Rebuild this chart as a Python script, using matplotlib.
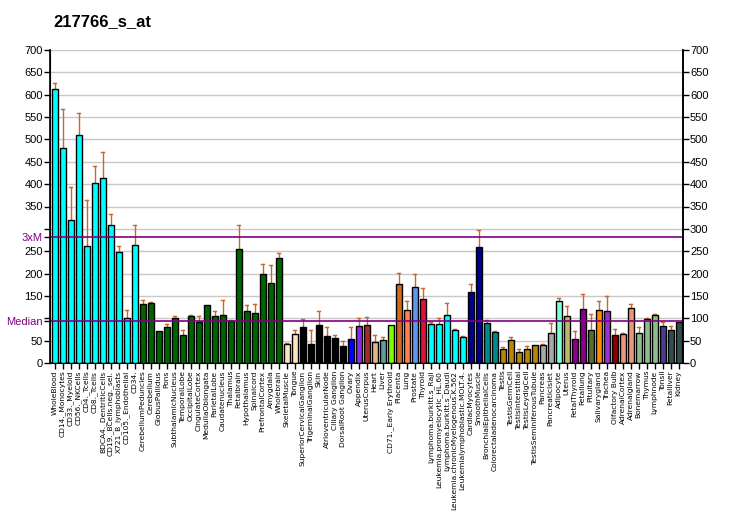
import matplotlib
matplotlib.use("Agg")
import matplotlib.pyplot as plt
import numpy as np

plt.rcParams['font.family'] = ['Liberation Sans', 'DejaVu Sans']

title = "217766_s_at"

categories = [
    "WholeBlood", "CD14._Monocytes", "CD33._Myeloid", "CD56._NKCells", "CD4._Tcells",
    "CD8._Tcells", "BDCA4._DentriticCells", "CD19._BCells.neg._sel.", "X721_B_lymphoblasts",
    "CD105._Endothelial", "CD34.", "CerebellumPeduncles", "Cerebellum", "GlobusPallidus",
    "Pons", "SubthalamicNucleus", "TemporalLobe", "OccipitalLobe", "CingulateCortex",
    "MedullaOblongata", "ParietalLobe", "Caudatenucleus", "Thalamus", "Fetalbrain",
    "Hypothalamus", "Spinalcord", "PrefrontalCortex", "Amygdala", "Wholebrain",
    "SkeletalMuscle", "Tongue", "SuperiorCervicalGanglion", "TrigeminalGanglion", "Skin",
    "AtrioventricularNode", "Ciliary Ganglion", "DorsalRoot Ganglion", "Ovary", "Appendix",
    "UterusCorpus", "Heart", "Liver", "CD71._Early Erythroid", "Placenta", "Lung",
    "Prostate", "Thyroid", "Lymphoma.burkitt.s_Raji", "Leukemia.promyelocytic_HL.60",
    "Lymphoma.burkitt.s_Daudi", "Leukemia.chronicMyelogenous.K.562",
    "Leukemialymphoblastic.MOLT.4.", "CardiacMyocytes", "SmoothMuscle",
    "BronchialEpithelialCells", "Colorectaladenocarcinoma", "Testis", "TestisGermCell",
    "TestisInterstitial", "TestisLeydigCell", "TestisSeminiferousTubule", "Pancreas",
    "PancreaticIslet", "Adipocyte", "Uterus", "FetalThyroid", "Fetallung", "Pituitary",
    "Salivarygland", "Trachea", "Olfactory Bulb", "AdrenalCortex", "Adrenalgland",
    "Bonemarrow", "Thymus", "Lymphnode", "Tonsil", "Fetalliver", "Kidney",
]

values = [
    613, 481, 320, 510, 262, 403, 414, 309, 248, 101, 264,
    132, 134, 72, 81, 101, 63, 105, 92, 130, 105, 107, 94, 255, 116, 112, 199, 179, 235,
    43, 65, 81, 43, 85, 60, 56, 38, 54, 83, 85, 47, 51, 85, 177, 119, 170, 143,
    87, 87, 107, 74, 58, 159, 260, 90, 69, 31, 51, 25, 31, 40, 40, 67, 139, 105,
    54, 121, 74, 119, 116, 62, 64, 123, 67, 98, 107, 83, 74, 92,
]

err_top = [
    627, 569, 394, 560, 365, 441, 473, 333, 262, 119, 309,
    142, 136, None, 87, 104, 74, 107, 104, None, 117, 141, 96, 309, 130, 132, 222, 219, 246,
    45, 74, 98, 74, 116, 81, 63, 49, 81, 101, 103, 63, 58, None, 201, 139, 199, 168,
    92, 101, 134, 76, 60, 177, 298, 96, 72, 35, 58, 31, 38, None, 43, 90, 145, 128,
    72, 154, 110, 138, 150, 76, 66, 132, 81, 101, 109, 92, 83, None,
]

colors = (
    ["#00FFFF"] * 11 + ["#006400"] * 18 + ["#FFE4C4"] * 2 + ["#000000"] * 6 +
    ["#0000FF", "#8A2BE2", "#A52A2A", "#DEB887", "#5F9EA0", "#7FFF00", "#D2691E",
     "#FF7F50", "#6495ED", "#DC143C"] +
    ["#00FFFF"] * 5 + ["#00008B"] * 2 + ["#008B8B"] * 2 + ["#B8860B"] * 5 +
    ["#A9A9A9"] * 2 + ["#7FFFD4", "#BDB76B", "#8B008B", "#8B008B", "#556B2F", "#FF8C00",
     "#9932CC", "#8B0000", "#E9967A", "#E9967A", "#8FBC8F", "#8FBC8F", "#8FBC8F",
     "#483D8B", "#2F4F4F", "#2F4F4F"]
)

median_val = 94
yticks = [0, 50, 100, 150, 200, 250, 300, 350, 400, 450, 500, 550, 600, 650, 700]

fig = plt.figure(figsize=(7.32, 5.30), dpi=100)
ax = fig.add_axes([50 / 732, 1 - 363 / 530, (683 - 50) / 732, (363 - 50) / 530])

x = np.arange(len(categories))
for xi, v, e in zip(x, values, err_top):
    if e is not None and e > v:
        ax.plot([xi, xi], [v, e], color="#C8682A", lw=1.0, zorder=2)
        ax.plot([xi - 0.2, xi + 0.2], [e, e], color="#C8682A", lw=1.0, zorder=2)
ax.bar(x, values, width=0.72, color=colors, edgecolor="black", linewidth=1.0, zorder=3)

for t in yticks:
    ax.axhline(t, color="#C8C8C8", lw=1.0, zorder=1)
ax.axhline(median_val, color="#800080", lw=1.2, zorder=4)
ax.axhline(3 * median_val, color="#800080", lw=1.2, zorder=4)

ax.set_xlim(-0.58, len(categories) - 0.46)
ax.set_ylim(0, 700)

ax.spines['top'].set_visible(False)
for s in ['left', 'right', 'bottom']:
    ax.spines[s].set_linewidth(1.2)

left_ticks = yticks + [median_val, 3 * median_val]
left_labels = [("" if t in (100, 300) else str(t)) for t in yticks] + ["Median", "3xM"]
ax.set_yticks(left_ticks)
ax.set_yticklabels(left_labels, fontsize=8)
for lab in ax.get_yticklabels()[-2:]:
    lab.set_color("#800080")
ax.tick_params(axis='y', length=4, width=1, pad=1)

ax2 = ax.twinx()
ax2.set_ylim(0, 700)
ax2.set_yticks(yticks)
ax2.set_yticklabels([str(t) for t in yticks], fontsize=8)
ax2.tick_params(axis='y', length=4, width=1, pad=1)
ax2.spines['top'].set_visible(False)
ax2.spines['right'].set_linewidth(1.2)

ax.set_xticks(x)
ax.set_xticklabels(categories, rotation=90, fontsize=5.4, family='DejaVu Sans')
ax.tick_params(axis='x', length=4, width=1, pad=1.5)

fig.text(53 / 732, 1 - 22 / 530, title, fontsize=12, fontweight='bold', va='center', ha='left')

fig.savefig("out.png", dpi=100)
